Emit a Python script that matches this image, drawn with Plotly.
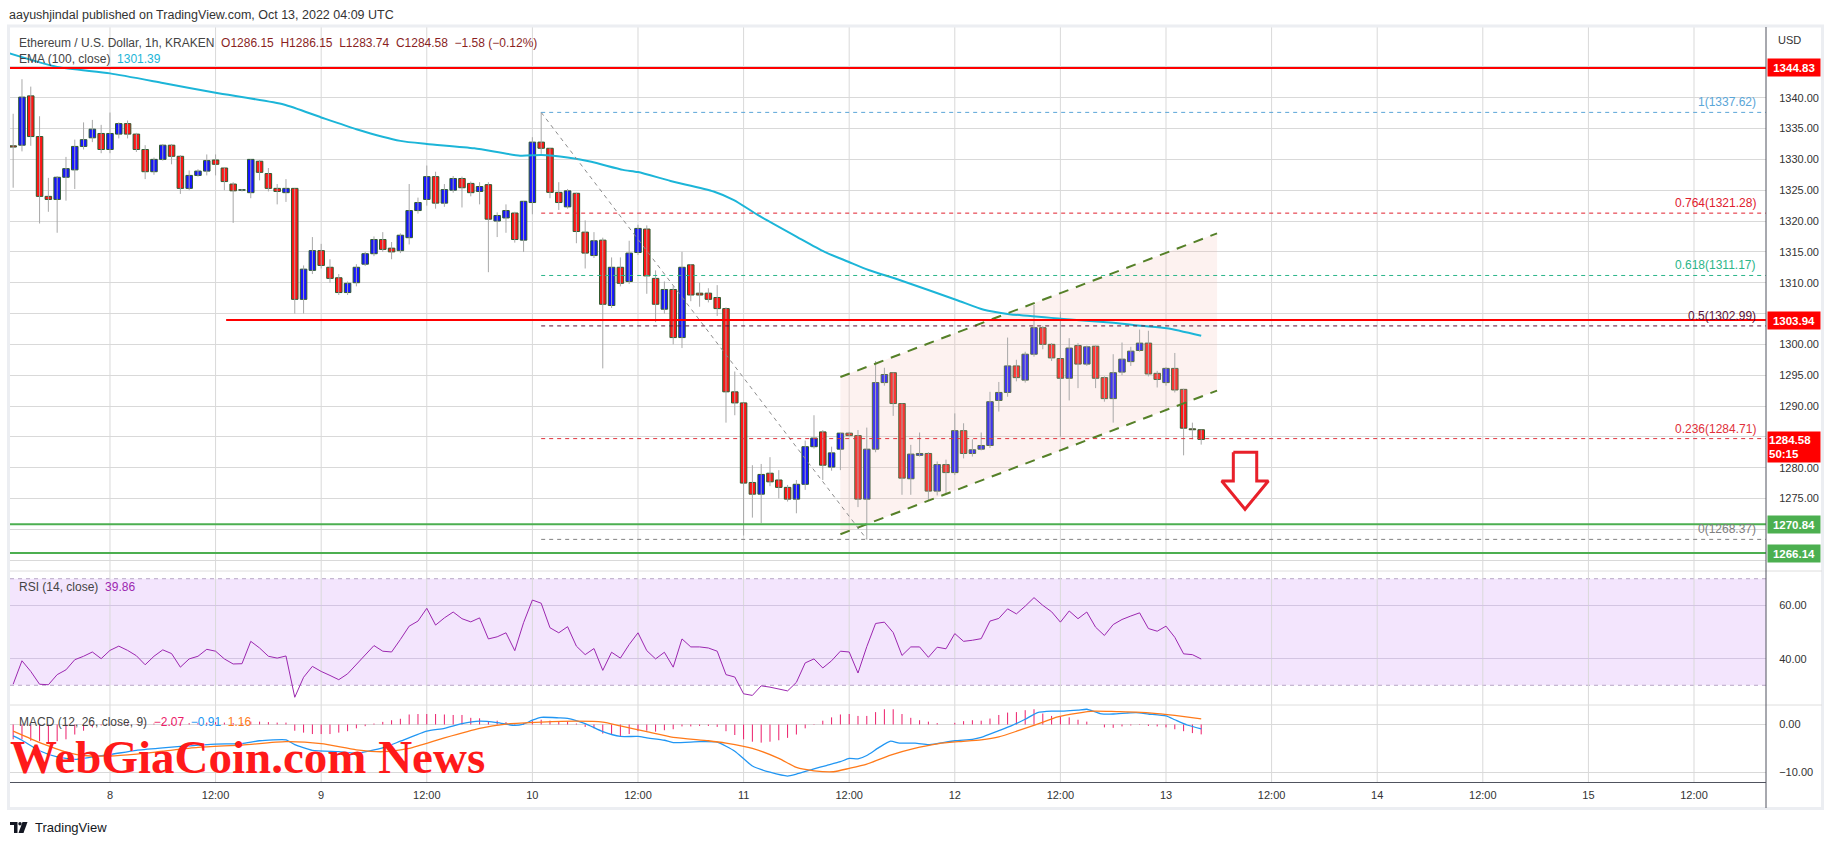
import plotly.graph_objects as go
import pandas as pd

# ---------------- data ----------------
START = "2022-10-07 13:00"
OPEN = [1332.2, 1332.3, 1340.3, 1333.7, 1324.0, 1323.5, 1327.1, 1328.3, 1332.1, 1333.5, 1334.2,
        1331.6, 1334.1, 1335.8, 1334.1, 1331.6, 1328.0, 1330.0, 1332.3, 1330.5, 1325.3,
        1327.4, 1328.1, 1329.9, 1328.6, 1326.0, 1325.0, 1324.6, 1329.7, 1327.7, 1325.3,
        1324.6, 1325.3, 1307.3, 1312.0, 1315.2, 1312.5, 1310.8, 1308.4, 1310.0, 1313.0,
        1314.7, 1317.0, 1315.6, 1315.2, 1317.3, 1321.7, 1323.5, 1327.2, 1322.9, 1325.0,
        1326.9, 1326.1, 1324.8, 1325.9, 1320.0, 1320.5, 1321.3, 1316.9, 1323.0, 1332.8,
        1331.8, 1324.65, 1322.3, 1324.5, 1318.2, 1314.4, 1316.9, 1306.3, 1312.5, 1310.2,
        1314.9, 1318.7, 1310.7, 1305.7, 1308.9, 1301.1, 1312.9, 1308.3, 1308.3, 1307.6,
        1305.8, 1292.3, 1290.5, 1277.6, 1275.7, 1279.1, 1278.0, 1276.8, 1274.9, 1277.3,
        1283.4, 1285.8, 1280.1, 1283.0, 1285.6, 1285.2, 1274.9, 1283.0, 1293.8, 1295.4,
        1290.4, 1278.2, 1282.0, 1282.3, 1276.2, 1280.5, 1279.2, 1286.0, 1282.3, 1283.0,
        1283.6, 1290.9, 1292.2, 1296.5, 1294.2, 1298.4, 1302.7, 1300.0, 1297.7, 1294.5,
        1299.8, 1296.8, 1299.7, 1294.6, 1291.2, 1295.5, 1297.2, 1299.0, 1300.2, 1295.3,
        1293.8, 1296.1, 1292.7, 1286.3, 1286.15]
HIGH = [1337.4, 1343.0, 1341.8, 1337.0, 1327.0, 1327.3, 1330.4, 1333.2, 1336.0, 1336.4, 1335.6,
        1337.6, 1336.0, 1336.3, 1334.3, 1332.3, 1330.3, 1332.5, 1332.5, 1330.7, 1328.2,
        1328.4, 1330.8, 1330.8, 1328.7, 1326.3, 1325.2, 1330.0, 1329.9, 1328.6, 1326.0,
        1326.8, 1325.3, 1312.8, 1317.4, 1316.3, 1313.8, 1311.4, 1310.2, 1313.0, 1315.0,
        1317.5, 1318.2, 1316.6, 1318.0, 1326.0, 1323.8, 1329.0, 1328.0, 1326.0, 1327.3,
        1327.2, 1326.4, 1326.3, 1326.3, 1321.4, 1322.7, 1321.5, 1323.2, 1333.6, 1337.62,
        1331.8, 1326.3, 1325.2, 1324.6, 1320.1, 1318.2, 1317.3, 1314.1, 1314.1, 1316.8,
        1319.4, 1319.3, 1312.0, 1310.2, 1309.4, 1315.0, 1313.0, 1310.0, 1309.1, 1309.6,
        1306.0, 1295.6, 1290.5, 1280.4, 1280.6, 1281.7, 1279.6, 1277.2, 1278.0, 1284.4,
        1288.5, 1286.1, 1283.4, 1285.6, 1285.8, 1286.1, 1286.5, 1297.3, 1296.2, 1295.4,
        1290.4, 1283.7, 1285.7, 1282.5, 1281.0, 1281.3, 1288.8, 1287.2, 1284.6, 1285.7,
        1292.3, 1293.9, 1301.1, 1297.5, 1298.8, 1306.4, 1303.0, 1300.2, 1305.3, 1301.0,
        1300.2, 1299.8, 1299.8, 1294.8, 1298.4, 1300.3, 1299.6, 1302.4, 1302.2, 1295.7,
        1296.3, 1298.6, 1292.8, 1287.3, 1286.15]
LOW = [1325.4, 1331.3, 1332.2, 1319.6, 1321.5, 1318.1, 1323.3, 1325.2, 1331.6, 1332.8, 1331.0,
       1331.0, 1333.4, 1333.4, 1331.2, 1326.8, 1327.5, 1329.8, 1329.2, 1324.4, 1325.0,
       1327.2, 1327.4, 1327.4, 1325.0, 1319.7, 1324.8, 1323.7, 1326.6, 1324.8, 1322.7,
       1323.1, 1305.0, 1305.0, 1311.4, 1312.3, 1310.0, 1308.0, 1308.0, 1309.4, 1312.7,
       1314.3, 1315.0, 1313.8, 1314.8, 1316.2, 1321.2, 1322.5, 1322.0, 1322.3, 1324.6,
       1322.2, 1324.0, 1322.7, 1311.7, 1317.4, 1318.1, 1316.5, 1315.0, 1321.1, 1330.9,
       1323.7, 1321.8, 1322.0, 1316.4, 1312.3, 1314.0, 1296.1, 1305.9, 1309.4, 1309.8,
       1314.5, 1308.2, 1303.6, 1305.0, 1300.0, 1299.4, 1307.0, 1306.1, 1306.8, 1304.6,
       1287.3, 1288.5, 1269.0, 1271.9, 1271.0, 1277.0, 1275.0, 1274.5, 1272.6, 1276.4,
       1283.1, 1278.0, 1279.5, 1279.6, 1285.0, 1273.6, 1268.37, 1282.5, 1293.3, 1288.4,
       1275.6, 1275.6, 1281.8, 1274.7, 1275.5, 1275.8, 1278.8, 1281.5, 1281.8, 1282.8,
       1283.2, 1289.1, 1291.5, 1294.0, 1293.8, 1298.0, 1299.2, 1297.3, 1285.0, 1290.9,
       1292.9, 1296.5, 1292.9, 1290.7, 1287.3, 1295.0, 1296.5, 1298.8, 1294.8, 1293.0,
       1293.3, 1292.2, 1282.0, 1284.6, 1283.74]
CLOSE = [1332.0, 1340.1, 1333.7, 1324.0, 1323.5, 1327.1, 1328.5, 1332.1, 1333.2, 1334.9, 1331.6,
         1334.2, 1335.8, 1334.1, 1331.6, 1328.0, 1330.0, 1332.3, 1330.5, 1325.3, 1327.4,
         1328.1, 1329.8, 1329.2, 1326.4, 1324.9, 1325.05, 1330.0, 1327.9, 1325.3, 1324.8,
         1325.3, 1307.3, 1312.2, 1315.2, 1312.8, 1310.7, 1308.4, 1309.9, 1312.5, 1314.7,
         1317.0, 1315.4, 1315.0, 1317.7, 1321.7, 1323.0, 1327.2, 1322.9, 1325.1, 1326.9,
         1325.4, 1324.6, 1325.6, 1320.3, 1320.9, 1321.7, 1317.0, 1323.2, 1332.8, 1331.8,
         1324.65, 1323.0, 1324.9, 1318.3, 1314.8, 1316.8, 1306.5, 1312.5, 1309.9, 1314.8,
         1318.8, 1311.1, 1306.5, 1308.9, 1301.1, 1312.5, 1308.0, 1308.0, 1307.3, 1305.8,
         1292.3, 1290.5, 1277.5, 1275.7, 1278.9, 1277.7, 1276.8, 1274.9, 1277.3, 1283.4,
         1284.8, 1280.4, 1282.4, 1285.6, 1285.2, 1274.9, 1283.0, 1293.8, 1295.1, 1290.4,
         1278.3, 1282.2, 1282.3, 1276.2, 1280.5, 1279.2, 1286.0, 1282.3, 1282.9, 1283.6,
         1290.7, 1292.2, 1296.5, 1294.6, 1298.4, 1302.7, 1300.0, 1297.8, 1294.5, 1299.4,
         1296.8, 1299.6, 1294.5, 1291.2, 1295.4, 1297.6, 1298.9, 1300.2, 1295.2, 1294.3,
         1296.1, 1292.6, 1286.4, 1286.15, 1284.58]

RSI = [30.4, 39.2, 35.2, 30.4, 30.2, 34.0, 35.8, 39.6, 40.9, 42.5, 40.0,
       43.1, 44.7, 43.1, 41.1, 37.7, 40.9, 43.3, 41.9, 36.8, 39.9,
       40.9, 43.5, 42.8, 39.9, 38.0, 38.1, 46.5, 44.0, 40.9, 40.2,
       41.0, 25.5, 33.0, 37.1, 35.2, 33.7, 32.1, 34.3, 37.7, 41.5,
       44.9, 42.8, 42.5, 47.2, 52.2, 54.1, 58.9, 52.6, 55.3, 57.5,
       55.0, 53.8, 55.3, 47.4, 48.2, 49.7, 43.0, 53.5, 62.0, 60.8,
       51.6, 49.7, 52.0, 44.7, 41.5, 43.8, 35.6, 42.4, 40.2, 45.3,
       49.7, 43.0, 39.9, 42.4, 36.8, 47.4, 44.4, 44.4, 44.0, 42.8,
       34.0, 33.1, 26.8, 26.2, 29.8, 29.3, 28.7, 27.9, 31.1, 38.4,
       39.9, 36.5, 39.2, 42.8, 42.5, 34.6, 44.5, 53.2, 53.7, 49.8,
       41.2, 44.4, 44.4, 40.5, 44.3, 43.7, 49.4, 46.5, 46.9, 47.5,
       54.1, 55.1, 58.7, 56.8, 59.7, 62.9, 60.0, 57.6, 53.7, 57.9,
       55.0, 57.5, 51.8, 48.7, 52.8, 54.7, 56.0, 57.2, 51.3, 50.3,
       52.2, 48.0, 41.8, 41.5, 39.86]

HIST = [-3.1, -3.1, -3.4, -3.5, -4.0, -3.5, -3.1, -2.1, -1.3, -0.6, -0.2,
        0.1, 0.2, 0.2, 0.1, 0.1, 0.2, 0.3, 0.3, 0.2, 0.3,
        0.3, 0.4, 0.5, 0.4, 0.3, 0.3, 0.6, 0.6, 0.5, 0.4,
        0.4, -1.3, -1.7, -2.0, -2.0, -2.0, -1.7, -1.4, -0.8, -0.35,
        0.2, 0.55, 0.9, 1.2, 2.1, 2.2, 2.2, 2.2, 2.1, 2.0,
        2.0, 1.4, 1.3, 0.6, 0.8, 0.5, 0.1, 0.3, 0.8, 1.0,
        0.8, 0.7, 0.6, 0.2, -0.5, -0.8, -1.9, -2.1, -2.4, -2.0,
        -1.4, -1.3, -1.5, -1.2, -1.0, -0.4, -0.4, -0.3, -0.3, -0.5,
        -1.4, -2.2, -3.1, -3.6, -3.8, -3.6, -3.3, -2.8, -2.1, -0.8,
        0.1, 0.8, 1.5, 2.1, 2.2, 1.8, 1.8, 2.6, 3.2, 3.2,
        2.2, 1.4, 0.9, 0.6, 0.3, 0.0, 0.35, 0.7, 0.9, 0.8,
        1.25, 2.0, 2.5, 2.6, 3.0, 3.2, 2.3, 1.8, 1.7, 1.5,
        1.0, 0.6, 0.0, -0.6, -0.7, -0.4, -0.2, -0.1, -0.3, -0.4,
        -0.6, -1.0, -1.4, -1.8, -2.07]

# hours after 2022-10-08 00:00 at which the smooth lines were read
EMA_H = [-11.4, -6, 0, 6, 12, 19.75, 24, 28, 33, 36, 41.4, 46.6, 49, 52, 54.7, 58.3, 60, 63.7,
         68.6, 70.9, 73.6, 78.1, 81.2, 83.9, 86.2, 89.8, 96.2, 99.3, 102.2, 108, 114, 117.2,
         120.1, 124]
EMA_V = [1347.2, 1345.0, 1343.95, 1342.4, 1340.8, 1338.9, 1336.8, 1334.9, 1333.0, 1332.5,
         1331.8, 1330.6, 1330.7, 1330.3, 1329.6, 1328.3, 1327.95, 1326.5, 1324.8, 1323.4,
         1321.0, 1317.4, 1315.0, 1313.4, 1312.05, 1310.4, 1307.2, 1305.6, 1304.9, 1304.15,
         1303.5, 1303.0, 1302.6, 1301.39]

MACD_H = [-11, -10, -8, -6, -4, -2, 0, 3, 6, 8, 12, 15, 17, 20, 21, 23, 26, 28, 31, 33, 36, 38,
          40, 42, 44, 46, 47, 48, 49, 51, 52, 54, 56, 58, 60, 61, 63, 64, 67, 69, 71, 73, 75,
          77, 78, 80, 81.4, 83, 84, 85, 86, 87.4, 88.7, 89.7, 91.5, 93, 94, 96, 98, 99, 101,
          102.4, 104, 105.4, 107, 108.4, 110, 111, 112.5, 114, 115.5, 116.6, 118, 120, 121,
          122.4, 124]
MACD_V = [-2.4, -3.3, -5.5, -6.8, -7.3, -6.8, -6.3, -5.4, -4.9, -4.6, -4.1, -4.0, -3.4, -3.2,
          -4.2, -5.4, -5.7, -6.0, -4.9, -3.5, -1.4, -0.8, 0.2, 0.7, 0.4, -0.2, 0.1, 0.9, 1.5,
          1.4, 1.3, 0.2, -1.5, -2.5, -2.5, -2.8, -3.3, -3.8, -3.6, -3.7, -5.6, -8.7, -10.0,
          -10.8, -10.4, -9.3, -8.6, -7.8, -7.1, -7.2, -6.5, -4.8, -3.5, -3.9, -3.9, -4.2, -4.0,
          -3.4, -3.1, -2.7, -1.3, -0.3, 1.1, 2.5, 2.8, 2.8, 3.0, 3.2, 2.3, 2.2, 2.4, 2.5, 2.2,
          1.8, 1.0, -0.1, -0.91]
SIGNAL_H = [-11, -9, -7, -5, -3, 0, 3, 6, 10, 15, 20, 24, 28, 31, 34, 38, 42, 45, 49, 53, 56,
            58, 61, 64, 68, 70, 73, 76, 78, 80, 82.2, 84, 86, 88.7, 91.2, 94.2, 96.4, 99, 101,
            103.2, 105.4, 107.7, 110, 111.8, 114.4, 116.6, 119, 121, 124]
SIGNAL_V = [-1.4, -3.0, -4.5, -5.8, -6.5, -6.6, -6.2, -5.6, -4.8, -4.3, -3.6, -4.0, -5.3, -5.7,
            -5.0, -2.8, -0.8, 0.1, 0.5, 0.7, 0.5, -0.3, -1.5, -2.7, -3.4, -3.9, -5.0, -7.1,
            -9.0, -9.7, -9.9, -9.2, -8.3, -6.4, -5.1, -4.0, -3.6, -3.2, -2.6, -1.3, 0.1, 1.6,
            2.4, 2.8, 2.7, 2.6, 2.3, 1.9, 1.16]

TICK_LABELS = ["8", "12:00", "9", "12:00", "10", "12:00", "11", "12:00", "12", "12:00",
               "13", "12:00", "14", "12:00", "15", "12:00"]
PRICE_TICKS = [1265, 1270, 1275, 1280, 1285, 1290, 1295, 1300, 1305, 1310, 1315, 1320,
               1325, 1330, 1335, 1340, 1345]
HIDDEN_TICKS = [1265, 1270, 1285, 1305, 1345]   # covered by the price boxes

FIB_RATIOS = ["1", "0.764", "0.618", "0.5", "0.236", "0"]
FIB_PRICES = [1337.62, 1321.28, 1311.17, 1302.99, 1284.71, 1268.37]
FIB_COLORS = ["#5aa6d8", "#e0202e", "#2cb58a", "#5a1236", "#e0303a", "#808080"]
FIB_FROM_H, FIB_TO_H = 49, 86

RED_LEVELS = [1344.83, 1303.94]
RED_FROM_H = [None, 13.2]
GREEN_LEVELS = [1270.84, 1266.14]

CHANNEL_H = [83, 125.8]
CHANNEL_UPPER = [1294.7, 1318.0]
CHANNEL_LOWER = [1269.2, 1292.5]

ARROW_H = [127.65, 130.31, 130.31, 131.63, 128.98, 126.33, 127.65, 127.65]
ARROW_P = [1282.49, 1282.49, 1277.84, 1277.84, 1273.25, 1277.84, 1277.84, 1282.49]

LAST_PRICE, COUNTDOWN = 1284.58, "50:15"

# ---------------- helpers ----------------
ORIGIN = pd.Timestamp("2022-10-08 00:00")


def at(h):
    return ORIGIN + pd.Timedelta(hours=h)


TIMES = list(pd.date_range(START, periods=len(OPEN), freq="h"))
X0, X1 = at(-11.36), at(188.18)

PL, PR, PT, PB = 10, 1766, 27, 782          # plot area in pixels
W, H = 1834, 845


def pxx(px):
    return (px - PL) / (PR - PL)


def pxy(py):
    return (PB - py) / (PB - PT)


FONT = "Liberation Sans"
UP, DOWN, EDGE, WICK = "#1515ff", "#ff1515", "#2f5b2f", "#a8a8a8"

fig = go.Figure()

# channel fill (behind candles)
fig.add_trace(go.Scatter(
    x=[at(CHANNEL_H[0]), at(CHANNEL_H[1]), at(CHANNEL_H[1]), at(CHANNEL_H[0]), at(CHANNEL_H[0])],
    y=[CHANNEL_UPPER[0], CHANNEL_UPPER[1], CHANNEL_LOWER[1], CHANNEL_LOWER[0], CHANNEL_UPPER[0]],
    fill="toself", fillcolor="rgba(245,190,180,0.20)", mode="lines",
    line=dict(width=0), hoverinfo="skip", showlegend=False, yaxis="y"))

# wicks
wx, wy = [], []
for t, lo, hi in zip(TIMES, LOW, HIGH):
    wx += [t, t, None]
    wy += [lo, hi, None]
fig.add_trace(go.Scatter(x=wx, y=wy, mode="lines", line=dict(color=WICK, width=1),
                         hoverinfo="skip", showlegend=False, yaxis="y"))

# bodies
base = [min(o, c) for o, c in zip(OPEN, CLOSE)]
size = [max(abs(c - o), 0.08) for o, c in zip(OPEN, CLOSE)]
cols = [UP if c >= o else DOWN for o, c in zip(OPEN, CLOSE)]
fig.add_trace(go.Bar(x=TIMES, y=size, base=base, width=0.74 * 3600 * 1000,
                     marker=dict(color=cols, line=dict(color=EDGE, width=1)),
                     showlegend=False, yaxis="y"))

# EMA
fig.add_trace(go.Scatter(x=[at(h) for h in EMA_H], y=EMA_V, mode="lines",
                         line=dict(color="#1cb5d8", width=2, shape="spline", smoothing=0.6),
                         showlegend=False, yaxis="y"))

# channel borders
for ys in (CHANNEL_UPPER, CHANNEL_LOWER):
    fig.add_trace(go.Scatter(x=[at(h) for h in CHANNEL_H], y=ys, mode="lines",
                             line=dict(color="#558028", width=2, dash="10px,8px"),
                             showlegend=False, yaxis="y"))

# fib diagonal
fig.add_trace(go.Scatter(x=[at(FIB_FROM_H), at(FIB_TO_H)], y=[FIB_PRICES[0], FIB_PRICES[-1]],
                         mode="lines", line=dict(color="#8c8c8c", width=1, dash="4px,4px"),
                         showlegend=False, yaxis="y"))

# arrow
fig.add_trace(go.Scatter(x=[at(h) for h in ARROW_H], y=ARROW_P, mode="lines",
                         line=dict(color="#e8202a", width=3), showlegend=False, yaxis="y"))

# RSI
fig.add_trace(go.Scatter(x=TIMES, y=RSI, mode="lines", line=dict(color="#9c27b0", width=1),
                         showlegend=False, yaxis="y2"))

# MACD histogram
hx, hy = [], []
for t, v in zip(TIMES, HIST):
    hx += [t, t, None]
    hy += [0, v, None]
fig.add_trace(go.Scatter(x=hx, y=hy, mode="lines", line=dict(color="#ec1e6a", width=1),
                         showlegend=False, yaxis="y3"))
fig.add_trace(go.Scatter(x=[at(h) for h in MACD_H], y=MACD_V, mode="lines",
                         line=dict(color="#2196f3", width=1.3, shape="spline", smoothing=0.5),
                         showlegend=False, yaxis="y3"))
fig.add_trace(go.Scatter(x=[at(h) for h in SIGNAL_H], y=SIGNAL_V, mode="lines",
                         line=dict(color="#ff7a1a", width=1.3, shape="spline", smoothing=0.6),
                         showlegend=False, yaxis="y3"))

# ---------------- shapes ----------------
shapes = []
D_MAIN = [pxy(571), 1.0]
D_RSI = [pxy(705), pxy(571)]
D_MACD = [0.0, pxy(705)]

# RSI band
shapes.append(dict(type="rect", xref="paper", x0=0, x1=1, yref="y2", y0=30, y1=70,
                   fillcolor="#f3e5fd", line=dict(width=0), layer="below"))
for lv in (30, 70):
    shapes.append(dict(type="line", xref="paper", x0=0, x1=1, yref="y2", y0=lv, y1=lv,
                       line=dict(color="#b7a6c6", width=1, dash="4px,4px"), layer="below"))
# vertical grid lines
for k in range(16):
    shapes.append(dict(type="line", xref="x", x0=at(12 * k), x1=at(12 * k), yref="paper",
                       y0=0, y1=1, line=dict(color="#d9d9d9", width=1), layer="below"))

# red / green levels
for lv, fh in zip(RED_LEVELS, RED_FROM_H):
    if fh is None:
        shapes.append(dict(type="line", xref="paper", x0=0, x1=1, yref="y", y0=lv, y1=lv,
                           line=dict(color="#ff0000", width=2)))
    else:
        shapes.append(dict(type="line", xref="x", x0=at(fh), x1=X1, yref="y", y0=lv, y1=lv,
                           line=dict(color="#ff0000", width=2)))
for lv in GREEN_LEVELS:
    shapes.append(dict(type="line", xref="paper", x0=0, x1=1, yref="y", y0=lv, y1=lv,
                       line=dict(color="#4caf50", width=2)))
# fib levels
for p, c in zip(FIB_PRICES, FIB_COLORS):
    shapes.append(dict(type="line", xref="x", x0=at(FIB_FROM_H), x1=X1, yref="y", y0=p, y1=p,
                       line=dict(color=c, width=1, dash="4px,4px")))

# frame, separators, axis line
shapes.append(dict(type="rect", xref="paper", yref="paper", x0=pxx(8.5), x1=pxx(1822.5),
                   y0=pxy(808.5), y1=pxy(26), line=dict(color="#eceef2", width=3)))
for py in (571, 705):
    shapes.append(dict(type="line", xref="paper", yref="paper", x0=0, x1=pxx(1822),
                       y0=pxy(py), y1=pxy(py), line=dict(color="#dedede", width=1)))
shapes.append(dict(type="line", xref="paper", yref="paper", x0=1, x1=1, y0=pxy(808),
                   y1=pxy(27), line=dict(color="#50535e", width=1)))


# TradingView logo
def P(px, py):
    return f"{pxx(px):.5f},{pxy(py):.5f}"


logo = [
    f"M {P(10,822)} L {P(17.5,822)} L {P(17.5,833)} L {P(14,833)} L {P(14,825)} L {P(10,825)} Z",
    f"M {P(22.5,822)} L {P(27.5,822)} L {P(23.5,833)} L {P(18.5,833)} Z",
]
for pth in logo:
    shapes.append(dict(type="path", xref="paper", yref="paper", path=pth,
                       fillcolor="#131722", line=dict(width=0)))
shapes.append(dict(type="circle", xref="paper", yref="paper", x0=pxx(18.3), x1=pxx(21.7),
                   y0=pxy(825.4), y1=pxy(822), fillcolor="#131722", line=dict(width=0)))

# ---------------- annotations ----------------
ann = []
ann.append(dict(text="aayushjindal published on TradingView.com, Oct 13, 2022 04:09 UTC",
                xref="paper", yref="paper", x=pxx(7), y=pxy(15), xanchor="left",
                yanchor="middle", showarrow=False, font=dict(size=12.5, color="#333", family=FONT)))
ohlc_c = "#8a1f1f"
ann.append(dict(text=("Ethereum / U.S. Dollar, 1h, KRAKEN  "
                      f"<span style='color:{ohlc_c}'>O{OPEN[-1]:.2f}  H{HIGH[-1]:.2f}  "
                      f"L{LOW[-1]:.2f}  C{CLOSE[-1]:.2f}  −1.58 (−0.12%)</span>"),
                xref="paper", yref="paper", x=pxx(17), y=pxy(43), xanchor="left",
                yanchor="middle", showarrow=False, font=dict(size=12, color="#444", family=FONT)))
ann.append(dict(text=f"EMA (100, close)  <span style='color:#1cb5d8'>{EMA_V[-1]:.2f}</span>",
                xref="paper", yref="paper", x=pxx(17), y=pxy(59), xanchor="left",
                yanchor="middle", showarrow=False, font=dict(size=12, color="#444", family=FONT)))
ann.append(dict(text=f"RSI (14, close)  <span style='color:#9c27b0'>{RSI[-1]:.2f}</span>",
                xref="paper", yref="paper", x=pxx(17), y=pxy(587), xanchor="left",
                yanchor="middle", showarrow=False, font=dict(size=12, color="#444", family=FONT)))
ann.append(dict(text=("MACD (12, 26, close, 9)  "
                      f"<span style='color:#ec1e6a'>−2.07</span>  "
                      f"<span style='color:#2196f3'>−0.91</span>  "
                      f"<span style='color:#ff7a1a'>1.16</span>"),
                xref="paper", yref="paper", x=pxx(17), y=pxy(722), xanchor="left",
                yanchor="middle", showarrow=False, font=dict(size=12, color="#444", family=FONT)))
ann.append(dict(text="USD", xref="paper", yref="paper", x=pxx(1776), y=pxy(40),
                xanchor="left", yanchor="middle", showarrow=False,
                font=dict(size=11, color="#333", family=FONT)))
# fib labels
for r, p, c in zip(FIB_RATIOS, FIB_PRICES, FIB_COLORS):
    ann.append(dict(text=f"{r}({p:.2f})", xref="paper", yref="y", x=pxx(1758), y=p,
                    xanchor="right", yanchor="bottom", yshift=1, showarrow=False,
                    font=dict(size=12, color=c, family=FONT)))
# axis price boxes
for lv in RED_LEVELS:
    ann.append(dict(text=f"<b>{lv:.2f}</b>", xref="paper", yref="y", x=pxx(1767), y=lv,
                    xanchor="left", yanchor="middle", showarrow=False, bgcolor="#ff0000",
                    width=50, height=15, font=dict(size=11.5, color="white", family=FONT)))
for lv in GREEN_LEVELS:
    ann.append(dict(text=f"<b>{lv:.2f}</b>", xref="paper", yref="y", x=pxx(1767), y=lv,
                    xanchor="left", yanchor="middle", showarrow=False, bgcolor="#4caf50",
                    width=50, height=15, font=dict(size=11.5, color="white", family=FONT)))
ann.append(dict(text=f"<b>{LAST_PRICE:.2f}<br>{COUNTDOWN}</b>", xref="paper", yref="y",
                x=pxx(1767), y=LAST_PRICE, xanchor="left", yanchor="top", yshift=8,
                showarrow=False, bgcolor="#ff0000", width=50, height=28, align="left",
                font=dict(size=11.5, color="white", family=FONT)))
# watermark
ann.append(dict(text="<b>WebGiaCoin.com News</b>", xref="paper", yref="paper", x=pxx(8),
                y=pxy(757), xanchor="left", yanchor="middle", showarrow=False,
                font=dict(size=47, color="#ff1a1a", family="Liberation Serif")))
ann.append(dict(text="TradingView", xref="paper", yref="paper", x=pxx(33), y=pxy(828),
                xanchor="left", yanchor="middle", showarrow=False,
                font=dict(size=13, color="#131722", family=FONT)))

axis_font = dict(size=11, color="#333", family=FONT)
price_text = ["" if v in HIDDEN_TICKS else f"{v:.2f}" for v in PRICE_TICKS]
fig.update_layout(
    width=W, height=H,
    margin=dict(l=PL, r=W - PR, t=PT, b=H - PB, autoexpand=False),
    paper_bgcolor="white", plot_bgcolor="white",
    showlegend=False, barmode="overlay", bargap=0, hovermode=False,
    xaxis=dict(domain=[0, 1], anchor="y3", type="date", range=[X0, X1],
               tickvals=[at(12 * k) for k in range(len(TICK_LABELS))], ticktext=TICK_LABELS,
               showgrid=False, zeroline=False, showline=True, linecolor="#50535e", linewidth=1,
               ticks="outside", ticklen=3, tickcolor="rgba(0,0,0,0)", tickfont=axis_font,
               rangeslider=dict(visible=False)),
    yaxis=dict(domain=D_MAIN, anchor="x", side="right", range=[1263.24, 1351.47],
               tickvals=PRICE_TICKS, ticktext=price_text, gridcolor="#d9d9d9", zeroline=False,
               ticks="outside", ticklen=10, tickcolor="rgba(0,0,0,0)", tickfont=axis_font),
    yaxis2=dict(domain=D_RSI, anchor="x", side="right", range=[22.6, 72.9], tickvals=[40, 60],
                tickformat=".2f", gridcolor="#d3c5e2", zeroline=False,
                ticks="outside", ticklen=10, tickcolor="rgba(0,0,0,0)", tickfont=axis_font),
    yaxis3=dict(domain=D_MACD, anchor="x", side="right", range=[-12.05, 4.09],
                tickvals=[-10, 0], tickformat=".2f", gridcolor="#d9d9d9", zeroline=False,
                ticks="outside", ticklen=10, tickcolor="rgba(0,0,0,0)", tickfont=axis_font),
    shapes=shapes, annotations=ann,
)

fig.write_html("out.html", config={"displayModeBar": False, "staticPlot": True},
               post_script="document.body.style.margin='0';document.body.style.padding='0';")
